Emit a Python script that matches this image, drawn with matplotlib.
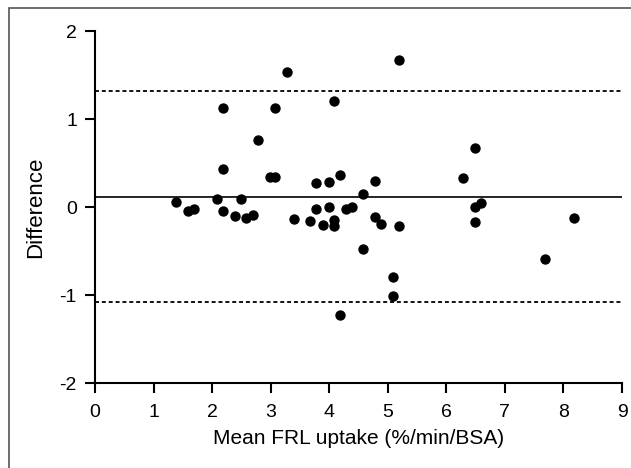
import matplotlib
matplotlib.use("Agg")
import matplotlib.pyplot as plt
from matplotlib.patches import Rectangle

mean_uptake = [1.39, 1.59, 1.69, 2.09, 2.19, 2.19, 2.19, 2.39, 2.50, 2.58, 2.69, 2.79,
               2.99, 3.08, 3.08, 3.28, 3.39, 3.68, 3.78, 3.78, 3.89, 3.99, 3.99, 4.08,
               4.08, 4.08, 4.19, 4.19, 4.29, 4.39, 4.58, 4.58, 4.79, 4.79, 4.89, 5.09,
               5.09, 5.19, 5.19, 6.29, 6.49, 6.49, 6.49, 6.59, 7.68, 8.18]
difference = [0.06, -0.05, -0.02, 0.09, 1.13, 0.43, -0.05, -0.10, 0.09, -0.12, -0.09, 0.76,
              0.34, 0.34, 1.13, 1.53, -0.14, -0.16, 0.27, -0.02, -0.20, 0.28, 0.00, 1.21,
              -0.15, -0.22, 0.36, -1.23, -0.02, 0.00, 0.15, -0.48, 0.30, -0.11, -0.19, -0.79,
              -1.01, -0.22, 1.67, 0.33, 0.67, 0.00, -0.17, 0.04, -0.59, -0.12]
mean_diff = 0.115
upper_loa = 1.32
lower_loa = -1.085

plt.rcParams['font.family'] = ['Liberation Sans', 'DejaVu Sans']
plt.rcParams['axes.unicode_minus'] = False

fig = plt.figure(figsize=(6.31, 4.68), dpi=100)
ax = fig.add_axes([95/631, 1-383/468, (622-95)/631, (383-31)/468])

ax.scatter(mean_uptake, difference, s=56, color='black', zorder=3, linewidths=0)
ax.axhline(mean_diff, color='black', lw=1.2)
ax.axhline(upper_loa, color='black', lw=1.3, ls=(0, (2.2, 1.6)))
ax.axhline(lower_loa, color='black', lw=1.3, ls=(0, (2.2, 1.6)))

ax.set_xlim(0, 9)
ax.set_ylim(-2, 2)
ax.set_xticks(range(0, 10))
ax.set_yticks([-2, -1, 0, 1, 2])
for s in ['top', 'right']:
    ax.spines[s].set_visible(False)
for s in ['left', 'bottom']:
    ax.spines[s].set_linewidth(1.5)
ax.tick_params(width=1.5, length=7, labelsize=14)
ax.tick_params(axis='x', pad=8)
ax.tick_params(axis='y', pad=6)
ax.set_xlabel('Mean FRL uptake (%/min/BSA)', fontsize=15, labelpad=6)
ax.set_ylabel('Difference', fontsize=16, labelpad=10)

fig.patches.append(Rectangle((9/631, -0.1), 1.2, (468-8)/468 + 0.1, transform=fig.transFigure,
                             fill=False, edgecolor='#555555', lw=1.2, figure=fig))

fig.savefig('out.png', dpi=100)
